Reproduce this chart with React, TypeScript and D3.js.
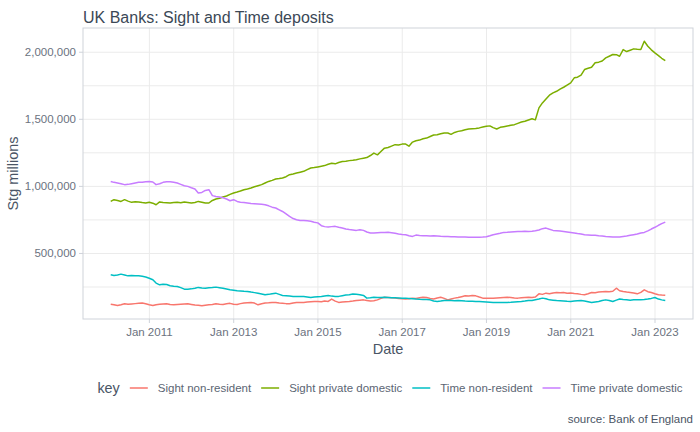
import React, { useMemo } from "react";
import * as d3 from "d3";

// ---------- DATA (Stg millions, values listed in thousands; monthly, end of month, Jan 2010 – Mar 2023) ----------
const FIRST_YEAR = 2010;
const seriesKeys = ["Sight non-resident", "Sight private domestic", "Time non-resident", "Time private domestic"];
const seriesColors = ["#F8766D", "#7CAE00", "#00BFC4", "#C77CFF"];

const sightNonResident = [
  122, 117, 112, 118, 125, 122, 124, 126, 128, 130, 125, 117,
  112, 118, 122, 124, 125, 120, 117, 120, 122, 124, 125, 120,
  115, 113, 110, 114, 117, 120, 125, 122, 120, 125, 128, 122,
  120, 126, 130, 132, 134, 130, 117, 125, 130, 132, 135, 134,
  130, 128, 126, 125, 130, 134, 135, 135, 138, 140, 142, 142,
  140, 145, 142, 160, 145, 135, 138, 140, 142, 145, 149, 152,
  154, 150, 145, 148, 154, 165, 174, 172, 170, 167, 165, 163,
  160, 162, 167, 165, 170, 174, 172, 165, 160, 168, 174, 165,
  154, 160, 167, 172, 178, 184, 182, 186, 184, 175, 167, 166,
  167, 166, 168, 170, 172, 174, 171, 168, 167, 170, 172, 174,
  172, 175, 199, 195, 204, 200, 206, 209, 207, 209, 204, 206,
  201, 199, 195, 192, 200, 209, 207, 212, 214, 216, 215, 218,
  241, 222, 216, 212, 209, 205, 199, 210, 229, 215, 209, 200,
  192, 190, 189,
];

const sightPrivateDomestic = [
  888, 901, 895, 888, 901, 890, 881, 885, 884, 879, 876, 881,
  875, 863, 884, 880, 878, 876, 880, 881, 878, 884, 880, 876,
  880, 888, 882, 876, 876, 895, 906, 912, 921, 928, 940, 951,
  958, 965, 975, 981, 988, 997, 1005, 1013, 1025, 1037, 1045, 1055,
  1058, 1063, 1072, 1087, 1093, 1100, 1106, 1112, 1125, 1137, 1140, 1145,
  1150, 1155, 1165, 1172, 1168, 1178, 1185, 1187, 1192, 1195, 1199, 1205,
  1210, 1215, 1230, 1248, 1235, 1260, 1285, 1290, 1300, 1311, 1308, 1315,
  1315, 1300, 1330, 1340, 1345, 1355, 1360, 1372, 1383, 1385, 1392, 1398,
  1398, 1388, 1402, 1410, 1415, 1422, 1428, 1430, 1432, 1436, 1442, 1448,
  1451, 1438, 1428, 1440, 1445, 1450, 1455, 1460, 1470, 1480, 1486, 1495,
  1504, 1496, 1585, 1622, 1652, 1680, 1697, 1709, 1725, 1739, 1755, 1772,
  1809, 1814, 1830, 1871, 1880, 1888, 1921, 1926, 1935, 1958, 1970, 1983,
  1982, 1970, 2020, 2005, 2015, 2025, 2022, 2020, 2082, 2045, 2018, 1995,
  1975, 1955, 1938,
];

const timeNonResident = [
  341, 336, 340, 346, 340, 333, 335, 333, 333, 330, 324, 315,
  304, 279, 266, 271, 268, 259, 256, 254, 245, 234, 234, 236,
  240, 247, 243, 241, 244, 246, 249, 245, 241, 235, 229, 226,
  222, 220, 218, 217, 212, 208, 204, 198, 192, 195, 200, 204,
  195, 187, 185, 182, 179, 179, 180, 179, 176, 172, 175, 177,
  179, 183, 187, 182, 179, 180, 185, 190, 192, 197, 195, 192,
  187, 167, 170, 174, 172, 172, 173, 172, 170, 169, 168, 167,
  167, 165, 163, 160, 158, 157, 156, 154, 145, 142, 145, 149,
  150, 149, 148, 149, 147, 145, 144, 143, 142, 142, 140, 138,
  136, 134, 134, 135, 134, 135, 136, 138, 140, 142, 145, 149,
  150, 155, 160, 167, 162, 154, 152, 149, 147, 145, 143, 142,
  145, 148, 149, 146, 140, 134, 138, 142, 149, 154, 150, 142,
  152, 160, 156, 154, 152, 154, 155, 154, 156, 160, 165, 172,
  160, 154, 149,
];

const timePrivateDomestic = [
  1037, 1030, 1025, 1020, 1013, 1015, 1020, 1025, 1030, 1030, 1035, 1037,
  1033, 1013, 1020, 1030, 1035, 1035, 1030, 1025, 1015, 1005, 1000, 990,
  981, 951, 955, 970, 975, 931, 925, 921, 915, 906, 893, 901,
  888, 882, 880, 876, 872, 870, 868, 866, 863, 855, 845, 839,
  825, 813, 795, 776, 760, 751, 746, 746, 743, 740, 733, 728,
  707, 700, 697, 700, 702, 695, 690, 682, 678, 675, 672, 677,
  672, 660, 652, 652, 655, 657, 657, 658, 655, 650, 645, 642,
  640, 632, 627, 637, 634, 632, 632, 630, 632, 630, 628, 627,
  627, 625, 624, 622, 622, 623, 621, 620, 620, 621, 622, 625,
  632, 640, 645, 650, 657, 658, 660, 662, 664, 664, 665, 664,
  666, 669, 675, 685, 689, 680, 672, 670, 667, 664, 660, 656,
  652, 648, 645, 640, 638, 635, 635, 632, 630, 627, 625, 622,
  622, 623, 627, 630, 635, 640, 645, 652, 657, 668, 682, 695,
  710, 722, 734,
];

const titleText = "UK Banks: Sight and Time deposits";
const xTitle = "Date";
const yTitle = "Stg millions";
const legendTitle = "key";
const captionText = "source: Bank of England";

// ---------- LAYOUT ----------
const W = 700;
const H = 432;
const P = { left: 83, right: 693, top: 28, bottom: 319 };
const FONT = "'Liberation Sans', Arial, Helvetica, sans-serif";

function measure(text: string, size: number) {
  const c = document.createElement("canvas").getContext("2d");
  if (!c) return text.length * size * 0.5;
  c.font = `${size}px 'Liberation Sans', Arial, sans-serif`;
  return c.measureText(text).width;
}

export default function App() {
  const raw = [sightNonResident, sightPrivateDomestic, timeNonResident, timePrivateDomestic];
  const n = sightNonResident.length;
  const dates = d3.range(n).map((i) => new Date(FIRST_YEAR, i + 1, 0));
  const series = seriesKeys.map((key, k) => ({
    key,
    color: seriesColors[k],
    values: raw[k].map((v, i) => ({ date: dates[i], value: v * 1000 })),
  }));

  const [dMin, dMax] = d3.extent(dates) as [Date, Date];
  const dSpan = +dMax - +dMin;
  const x = d3
    .scaleTime()
    .domain([new Date(+dMin - dSpan * 0.05), new Date(+dMax + dSpan * 0.05)])
    .range([P.left, P.right]);

  const allVals = series.flatMap((s) => s.values.map((v) => v.value));
  const vMin = d3.min(allVals) as number;
  const vMax = d3.max(allVals) as number;
  const vSpan = vMax - vMin;
  const y = d3
    .scaleLinear()
    .domain([vMin - vSpan * 0.05, vMax + vSpan * 0.05])
    .range([P.bottom, P.top]);

  const yTicks = y.ticks(5);
  const yStep = yTicks[1] - yTicks[0];
  const yMinor = [...yTicks.map((t) => t - yStep / 2), yTicks[yTicks.length - 1] + yStep / 2].filter(
    (t) => t >= y.domain()[0] && t <= y.domain()[1]
  );
  const xTicks = x.ticks(d3.timeYear.every(1) as any).filter((d: Date) => d.getFullYear() % 2 === 1);
  const fmtX = d3.timeFormat("%b %Y");
  const fmtY = d3.format(",");

  const line = d3
    .line<{ date: Date; value: number }>()
    .x((d) => x(d.date))
    .y((d) => y(d.value));

  const labelSize = 11.5;
  // legend layout
  const legend = useMemo(() => {
    const titleW = measure(legendTitle, 14.4);
    const keyW = 18;
    const gap = 10;
    const labelWs = seriesKeys.map((k) => measure(k, labelSize));
    const total = titleW + gap + labelWs.reduce((a, w) => a + keyW + gap + w, 0) + gap * (seriesKeys.length - 1);
    const cx = (P.left + P.right) / 2 + 2;
    let cur = cx - total / 2;
    const titleX = cur;
    cur += titleW + gap;
    const items = seriesKeys.map((k, i) => {
      const segX = cur;
      const textX = segX + keyW + gap;
      cur = textX + labelWs[i] + gap;
      return { key: k, color: seriesColors[i], segX, textX };
    });
    return { titleX, items, keyW };
  }, []);

  const gridColor = "#ebebeb";
  const tickText = "#6b7280";
  const axisTitleColor = "#4a5565";

  return (
    <svg
      width={W}
      height={H}
      style={{ position: "absolute", left: 0, top: 0, background: "#fff" }}
      fontFamily={FONT}
    >
      <rect x={0} y={0} width={W} height={H} fill="#ffffff" />
      {/* grid */}
      {yMinor.map((t) => (
        <line key={"ym" + t} x1={P.left} x2={P.right} y1={y(t)} y2={y(t)} stroke={gridColor} strokeWidth={1} />
      ))}
      {yTicks.map((t) => (
        <line key={"y" + t} x1={P.left} x2={P.right} y1={y(t)} y2={y(t)} stroke={gridColor} strokeWidth={1} />
      ))}
      {xTicks.map((t: Date) => (
        <line key={"x" + +t} x1={x(t)} x2={x(t)} y1={P.top} y2={P.bottom} stroke={gridColor} strokeWidth={1} />
      ))}
      {/* lines */}
      {series.map((s) => (
        <path key={s.key} d={line(s.values) || ""} fill="none" stroke={s.color} strokeWidth={1.5} strokeLinejoin="round" />
      ))}
      {/* panel border */}
      <rect
        x={P.left}
        y={P.top}
        width={P.right - P.left}
        height={P.bottom - P.top}
        fill="none"
        stroke="#cfd3da"
        strokeWidth={1}
      />
      {/* axis ticks + labels */}
      {yTicks.map((t) => (
        <g key={"yl" + t}>
          <line x1={P.left - 4} x2={P.left} y1={y(t)} y2={y(t)} stroke="#cfd3da" />
          <text x={P.left - 7} y={y(t)} dy="0.35em" textAnchor="end" fontSize={11.5} fill={tickText}>
            {fmtY(t)}
          </text>
        </g>
      ))}
      {xTicks.map((t: Date) => (
        <g key={"xl" + +t}>
          <line x1={x(t)} x2={x(t)} y1={P.bottom} y2={P.bottom + 4} stroke="#cfd3da" />
          <text x={x(t)} y={336} textAnchor="middle" fontSize={11.5} fill={tickText}>
            {fmtX(t)}
          </text>
        </g>
      ))}
      {/* titles */}
      <text x={P.left} y={22.5} fontSize={16} fill="#3b4856">
        {titleText}
      </text>
      <text x={(P.left + P.right) / 2} y={354} textAnchor="middle" fontSize={14.5} fill={axisTitleColor}>
        {xTitle}
      </text>
      <text
        transform={`translate(18,${(P.top + P.bottom) / 2}) rotate(-90)`}
        textAnchor="middle"
        fontSize={14.5}
        fill={axisTitleColor}
      >
        {yTitle}
      </text>
      {/* legend */}
      <text x={legend.titleX} y={388} dy="0.35em" fontSize={14.4} fill={axisTitleColor}>
        {legendTitle}
      </text>
      {legend.items.map((it) => (
        <g key={"lg" + it.key}>
          <line x1={it.segX} x2={it.segX + legend.keyW} y1={388} y2={388} stroke={it.color} strokeWidth={1.5} />
          <text x={it.textX} y={388} dy="0.35em" fontSize={labelSize} fill="#5b6573">
            {it.key}
          </text>
        </g>
      ))}
      {/* caption */}
      <text x={P.right} y={423} textAnchor="end" fontSize={11.5} fill={axisTitleColor}>
        {captionText}
      </text>
    </svg>
  );
}
